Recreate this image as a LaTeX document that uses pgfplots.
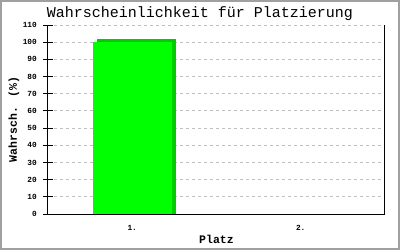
\documentclass[border=0pt]{standalone}
\usepackage{fontspec}
\setmainfont{Liberation Mono}
\usepackage{pgfplots}
\pgfplotsset{compat=1.18}
\definecolor{framegray}{RGB}{160,160,160}
\definecolor{gridgray}{RGB}{192,192,192}
\definecolor{barfront}{RGB}{0,255,0}
\definecolor{barside}{RGB}{0,204,0}
\begin{document}
\begin{tikzpicture}
\useasboundingbox (0pt,0pt) rectangle (400pt,250pt);
\draw[framegray, line width=2pt] (1pt,1pt) rectangle (399pt,249pt);
\node[anchor=base, inner sep=0pt, font=\fontsize{15}{15}\selectfont] at (200pt,232.5pt) {Wahrscheinlichkeit für Platzierung};
\begin{axis}[
  at={(48pt,36pt)}, anchor=south west,
  scale only axis, width=337pt, height=189pt,
  xmin=-0.5, xmax=1.5, ymin=0, ymax=110,
  axis lines*=left,
  axis line style={black, line width=1pt},
  xtick={0,1}, xticklabels={1.,2.},
  xtick style={draw=none},
  ytick={0,10,...,110},
  ytick style={black, line width=1pt},
  tick align=center,
  major tick length=9pt,
  /pgf/number format/assume math mode=true,
  ticklabel style={font=\fontsize{7.8}{8}\selectfont\bfseries},
  yticklabel style={inner sep=0pt, xshift=-6.5pt},
  xticklabel style={inner sep=0pt, anchor=base, yshift=-12pt},
  ymajorgrids,
  grid style={gridgray, dash pattern=on 3pt off 3pt, line width=1pt},
  xlabel={Platz},
  ylabel={Wahrsch. (\%)},
  label style={font=\fontsize{11.5}{12}\selectfont\bfseries},
  xlabel style={at={(axis description cs:0.5,0)}, anchor=base, inner sep=0pt, yshift=-29pt},
  ylabel style={at={(axis description cs:0,0.5)}, anchor=base, inner sep=0pt, yshift=31pt},
  clip=false,
]
\addplot[ybar, bar width=79pt, bar shift=4pt, fill=barside, draw=none] coordinates {(0,101.75)};
\addplot[ybar, bar width=79pt, bar shift=0pt, fill=barfront, draw=none] coordinates {(0,100)};
\draw[black, line width=1pt] (rel axis cs:1,0) -- (rel axis cs:1,1);
\end{axis}
\end{tikzpicture}
\end{document}
